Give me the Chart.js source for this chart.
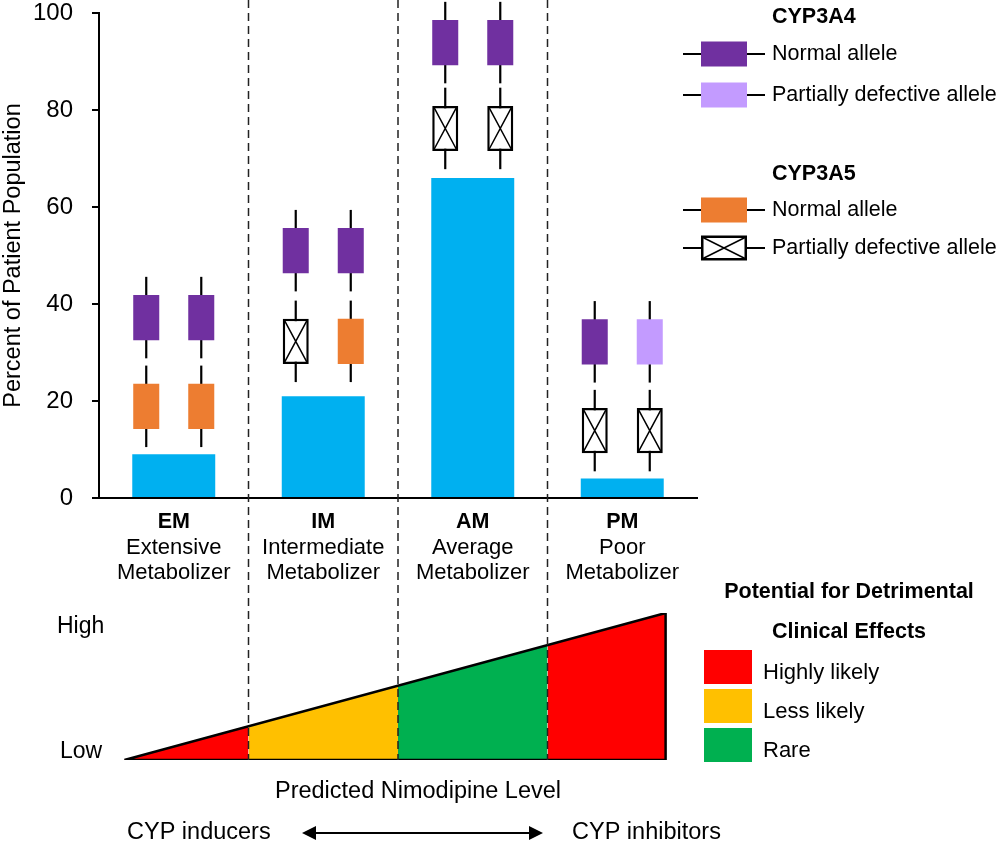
<!DOCTYPE html>
<html><head><meta charset="utf-8">
<script src="https://cdn.jsdelivr.net/npm/chart.js@4"></script>
<style>
html,body{margin:0;padding:0;background:#fff;width:1000px;height:844px;overflow:hidden}
#c1{position:absolute;left:0;top:0;width:1000px;height:600px}
#c2{position:absolute;left:0;top:570px;width:1000px;height:274px}
</style></head><body>
<canvas id="c1" width="1000" height="600"></canvas>
<canvas id="c2" width="1000" height="274"></canvas>
<script>
// ---------------- data ----------------
const categories = ['EM', 'IM', 'AM', 'PM'];
const categoryNames = [['Extensive', 'Metabolizer'], ['Intermediate', 'Metabolizer'], ['Average', 'Metabolizer'], ['Poor', 'Metabolizer']];
const patientPercent = [9, 21, 66, 4];
const yTicks = [0, 20, 40, 60, 80, 100];
const cyp3a4Mid = [37.2, 51.0, 93.9, 32.2];
const cyp3a5Mid = [18.9, 32.3, 76.2, 13.9];
const cyp3a4Left = ['normal', 'normal', 'normal', 'normal'];
const cyp3a4Right = ['normal', 'normal', 'normal', 'partial'];
const cyp3a5Left = ['normal', 'partial', 'partial', 'partial'];
const cyp3a5Right = ['normal', 'normal', 'partial', 'partial'];
const levelX = [-0.33, 0.5, 1.5, 2.5, 3.29];
const levelY = [0, 0.23, 0.5, 0.78, 1];
const zoneRisk = ['Highly likely', 'Less likely', 'Rare', 'Highly likely'];
const riskLegend = ['Highly likely', 'Less likely', 'Rare'];

// ---------------- styles ----------------
const FONT = '"Liberation Sans", Arial, Helvetica, sans-serif';
const BOX_HALF = 4.65, WHISKER_HALF = 8.4;
const COLORS = {
  bar: '#00B0F0', a4normal: '#7030A0', a4partial: '#C39BFF', a5normal: '#ED7D31', a5partial: '#FFFFFF',
  'Highly likely': '#FF0000', 'Less likely': '#FFC000', 'Rare': '#00B050'
};
const GLYPH_CAT = 0.736, BOX_PCT = 0.473, WHISK_PCT = 0.04;

function boxDataset(mids, types, gene, stack) {
  return {
    type: 'bar', data: mids.map(m => [m - BOX_HALF, m + BOX_HALF]), stack, order: 1,
    gene, alleleTypes: types,
    backgroundColor: types.map(t => COLORS[gene + t]),
    borderColor: '#000',
    borderWidth: types.map(t => (gene === 'a5' && t === 'partial') ? 2.5 : 0),
    borderSkipped: false, categoryPercentage: GLYPH_CAT, barPercentage: BOX_PCT, clip: false
  };
}
function whiskerDataset(mids, stack) {
  return {
    type: 'bar', data: mids.map(m => [m - WHISKER_HALF, m + WHISKER_HALF]), stack, order: 2,
    backgroundColor: '#000', borderWidth: 0, categoryPercentage: GLYPH_CAT, barPercentage: WHISK_PCT, clip: false
  };
}

function drawDashed(ctx, x, y0, y1) {
  ctx.save();
  ctx.strokeStyle = '#222'; ctx.lineWidth = 1.5; ctx.setLineDash([8, 5]); ctx.lineDashOffset = 0;
  ctx.beginPath(); ctx.moveTo(x, y0); ctx.lineTo(x, y1); ctx.stroke();
  ctx.restore();
}
function text(ctx, s, x, y, size, bold, align) {
  ctx.save();
  ctx.font = (bold ? 'bold ' : '') + size + 'px ' + FONT;
  ctx.fillStyle = '#000'; ctx.textAlign = align || 'left'; ctx.textBaseline = 'middle';
  ctx.fillText(s, x, y);
  ctx.restore();
}
function drawGlyph(ctx, y, fill, crossed) {
  ctx.save();
  ctx.strokeStyle = '#000'; ctx.lineWidth = 2;
  ctx.beginPath(); ctx.moveTo(683, y); ctx.lineTo(765, y); ctx.stroke();
  ctx.fillStyle = fill; ctx.fillRect(701, y - 12.5, 46, 25);
  if (crossed) {
    ctx.lineWidth = 2.5; ctx.strokeRect(702.25, y - 11.25, 43.5, 22.5);
    ctx.lineWidth = 1.5;
    ctx.beginPath(); ctx.moveTo(703, y - 10.5); ctx.lineTo(745, y + 10.5);
    ctx.moveTo(745, y - 10.5); ctx.lineTo(703, y + 10.5); ctx.stroke();
  }
  ctx.restore();
}

const topPlugin = {
  id: 'topDecor',
  afterDatasetsDraw(chart) {
    const ctx = chart.ctx;
    chart.data.datasets.forEach((ds, i) => {
      if (ds.gene !== 'a5') return;
      const meta = chart.getDatasetMeta(i);
      meta.data.forEach((el, j) => {
        if (ds.alleleTypes[j] !== 'partial') return;
        const p = el.getProps(['x', 'y', 'base', 'width'], true);
        const l = p.x - p.width / 2 + 2, r = p.x + p.width / 2 - 2;
        const t = Math.min(p.y, p.base) + 2, b = Math.max(p.y, p.base) - 2;
        ctx.save(); ctx.strokeStyle = '#000'; ctx.lineWidth = 1.5;
        ctx.beginPath(); ctx.moveTo(l, t); ctx.lineTo(r, b); ctx.moveTo(r, t); ctx.lineTo(l, b); ctx.stroke();
        ctx.restore();
      });
    });
  },
  afterDraw(chart) {
    const ctx = chart.ctx, xs = chart.scales.x;
    for (let i = 0; i < categories.length - 1; i++) drawDashed(ctx, xs.getPixelForValue(i + 0.5), 0, 585);
    categories.forEach((c, i) => {
      const x = xs.getPixelForValue(i);
      text(ctx, c, x, 522, 21.5, true, 'center');
      text(ctx, categoryNames[i][0], x, 548, 22, false, 'center');
      text(ctx, categoryNames[i][1], x, 573, 22, false, 'center');
    });
    // legend
    text(ctx, 'CYP3A4', 772, 17, 21.5, true);
    drawGlyph(ctx, 54, COLORS.a4normal, false);
    text(ctx, 'Normal allele', 772, 54, 21.5, false);
    drawGlyph(ctx, 95, COLORS.a4partial, false);
    text(ctx, 'Partially defective allele', 772, 95, 21.5, false);
    text(ctx, 'CYP3A5', 772, 174, 21.5, true);
    drawGlyph(ctx, 210, COLORS.a5normal, false);
    text(ctx, 'Normal allele', 772, 210, 21.5, false);
    drawGlyph(ctx, 248, '#FFFFFF', true);
    text(ctx, 'Partially defective allele', 772, 248, 21.5, false);
  }
};

new Chart(document.getElementById('c1'), {
  type: 'bar',
  data: {
    labels: categories,
    datasets: [
      { type: 'bar', data: patientPercent, backgroundColor: COLORS.bar, grouped: false, order: 3,
        categoryPercentage: 1, barPercentage: 0.555, borderWidth: 0 },
      boxDataset(cyp3a4Mid, cyp3a4Left, 'a4', 'L'),
      boxDataset(cyp3a4Mid, cyp3a4Right, 'a4', 'R'),
      boxDataset(cyp3a5Mid, cyp3a5Left, 'a5', 'L'),
      boxDataset(cyp3a5Mid, cyp3a5Right, 'a5', 'R'),
      whiskerDataset(cyp3a4Mid, 'L'),
      whiskerDataset(cyp3a4Mid, 'R'),
      whiskerDataset(cyp3a5Mid, 'L'),
      whiskerDataset(cyp3a5Mid, 'R')
    ]
  },
  options: {
    responsive: false, animation: false, devicePixelRatio: 1,
    layout: { padding: { left: 0, top: 13, right: 303, bottom: 0 } },
    plugins: { legend: { display: false }, tooltip: { enabled: false } },
    scales: {
      x: {
        type: 'category', offset: true,
        ticks: { display: false },
        grid: { display: false },
        border: { display: true, color: '#000', width: 2 },
        afterFit: s => { s.height = 102; }
      },
      y: {
        min: 0, max: 100, stacked: false,
        afterBuildTicks: s => { s.ticks = yTicks.map(v => ({ value: v })); },
        ticks: { color: '#000', font: { family: FONT, size: 24 }, padding: 19 },
        grid: { display: true, drawOnChartArea: false, drawTicks: true, tickLength: 7, color: '#000', lineWidth: 2 },
        border: { display: true, color: '#000', width: 2 },
        title: { display: true, text: 'Percent of Patient Population', color: '#000', font: { family: FONT, size: 23.5 }, padding: { top: -1, bottom: 0 } },
        afterFit: s => { s.width = 99; s.paddingTop = 0; s.paddingBottom = 0; }
      }
    }
  },
  plugins: [topPlugin]
});

// ---------------- bottom chart ----------------
const bottomPlugin = {
  id: 'bottomDecor',
  afterDraw(chart) {
    const ctx = chart.ctx, xs = chart.scales.x, ys = chart.scales.y;
    const base = ys.getPixelForValue(0);
    for (let i = 0; i < categories.length - 1; i++) drawDashed(ctx, xs.getPixelForValue(i + 0.5), 15, base);
    text(ctx, 'High', 57, 57, 23, false);
    text(ctx, 'Low', 60, 182, 23, false);
    text(ctx, 'Predicted Nimodipine Level', 418, 222, 23.5, false, 'center');
    text(ctx, 'CYP inducers', 127, 263, 23.5, false);
    text(ctx, 'CYP inhibitors', 572, 263, 23.5, false);
    // arrow
    ctx.save();
    ctx.strokeStyle = '#000'; ctx.fillStyle = '#000'; ctx.lineWidth = 2;
    ctx.beginPath(); ctx.moveTo(312, 263); ctx.lineTo(533, 263); ctx.stroke();
    ctx.beginPath(); ctx.moveTo(302, 263); ctx.lineTo(316, 256); ctx.lineTo(316, 270); ctx.closePath(); ctx.fill();
    ctx.beginPath(); ctx.moveTo(543, 263); ctx.lineTo(529, 256); ctx.lineTo(529, 270); ctx.closePath(); ctx.fill();
    ctx.restore();
    // risk legend
    text(ctx, 'Potential for Detrimental', 849, 22, 21.5, true, 'center');
    text(ctx, 'Clinical Effects', 849, 62, 21.5, true, 'center');
    riskLegend.forEach((r, i) => {
      ctx.save(); ctx.fillStyle = COLORS[r]; ctx.fillRect(704, 80 + i * 39, 48, 34); ctx.restore();
      text(ctx, r, 763, 103 + i * 39, 22, false);
    });
  }
};

const zoneDatasets = zoneRisk.map((r, i) => ({
  data: [{ x: levelX[i], y: levelY[i] }, { x: levelX[i + 1], y: levelY[i + 1] }],
  fill: 'origin', backgroundColor: COLORS[r], borderColor: COLORS[r], borderWidth: 1,
  pointRadius: 0, tension: 0, order: 2
}));
const last = levelX.length - 1;
const outlineDataset = {
  data: [{ x: levelX[0], y: 0 }, { x: levelX[last], y: levelY[last] }, { x: levelX[last], y: 0 }, { x: levelX[0], y: 0 }],
  fill: false, borderColor: '#000', borderWidth: 2.5, pointRadius: 0, tension: 0, order: 1
};

new Chart(document.getElementById('c2'), {
  type: 'line',
  data: { datasets: [...zoneDatasets, outlineDataset] },
  options: {
    responsive: false, animation: false, devicePixelRatio: 1,
    layout: { padding: { left: 99, top: 43, right: 303, bottom: 84 } },
    plugins: { legend: { display: false }, tooltip: { enabled: false } },
    scales: {
      x: { type: 'linear', min: -0.5, max: 3.5, display: false },
      y: { type: 'linear', min: 0, max: 1, display: false }
    }
  },
  plugins: [bottomPlugin]
});
</script></body></html>
